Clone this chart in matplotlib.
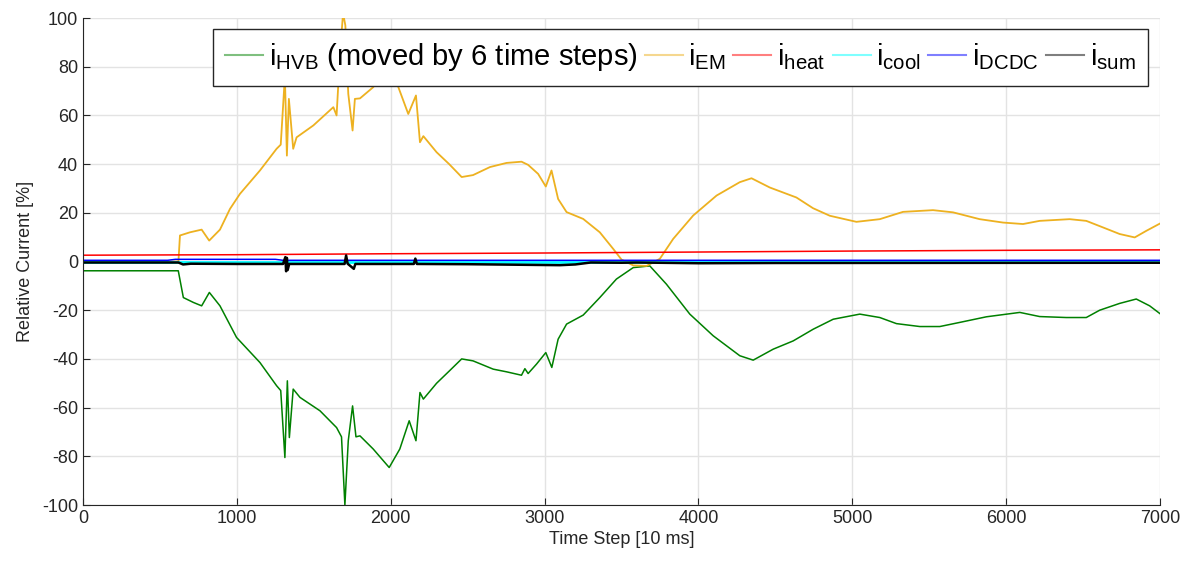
import matplotlib
matplotlib.use("Agg")
from matplotlib import pyplot as plt

plt.rcParams['font.family'] = ['Liberation Sans', 'DejaVu Sans']
plt.rcParams['axes.unicode_minus'] = False

# i_HVB (green), shifted by 6 time steps
t_hvb = [0, 619, 652, 717, 771, 821, 890, 998, 1150, 1258, 1285, 1312, 1328, 1341,
         1366, 1410, 1540, 1648, 1680, 1702, 1724, 1752, 1774, 1800, 1886, 1990,
         2059, 2120, 2164, 2190, 2212, 2298, 2380, 2461, 2535, 2666, 2753, 2850,
         2872, 2893, 2948, 3008, 3047, 3088, 3143, 3251, 3359, 3467, 3576, 3684,
         3792, 3944, 4096, 4269, 4356, 4486, 4616, 4746, 4876, 5049, 5179, 5287,
         5439, 5569, 5699, 5872, 6089, 6218, 6391, 6521, 6608, 6738, 6846, 6933, 7000]
i_hvb = [-3.8, -3.8, -14.8, -16.8, -18.2, -12.7, -18.2, -31.2, -41.5, -51, -53, -80.5, -49, -72.3,
         -52.4, -55.8, -61.3, -68.2, -72, -100, -73.6, -59.3, -72, -71.6, -77, -84.6,
         -77, -65.4, -73.6, -53.8, -56.5, -50, -45, -40, -40.8, -44.2, -45.3, -46.7,
         -44, -46, -42.1, -37.4, -43.5, -31.9, -25.7, -22, -14.8, -7.2, -2.5, -1.8,
         -9.3, -21.6, -30.5, -38.7, -40.5, -36, -32.6, -27.8, -23.7, -21.6, -23, -25.5,
         -26.7, -26.7, -25, -22.7, -20.9, -22.6, -23, -23, -20, -17.2, -15.4, -18.2, -21.4]

# i_EM (yellow)
t_em = [0, 620, 630, 695, 771, 820, 890, 955, 1020, 1150, 1258, 1285, 1312, 1325, 1338,
        1366, 1388, 1497, 1627, 1648, 1670, 1690, 1705, 1724, 1752, 1767, 1800, 1886,
        1990, 2049, 2114, 2164, 2190, 2212, 2298, 2380, 2461, 2535, 2645, 2753, 2850,
        2893, 2958, 3008, 3045, 3088, 3143, 3251, 3359, 3446, 3500, 3576, 3663, 3749,
        3836, 3966, 4118, 4269, 4345, 4464, 4637, 4745, 4854, 5027, 5179, 5330, 5525,
        5655, 5828, 5980, 6110, 6218, 6413, 6521, 6630, 6738, 6836, 6911, 7000]
i_em = [0, 0, 10.7, 12, 13.1, 8.6, 13.1, 21.6, 27.8, 37.4, 46.3, 48, 76, 43.5, 66.8,
        46.3, 51, 55.9, 63.4, 60, 85, 102, 97, 68.9, 53.8, 66.8, 67, 71.6,
        81, 71.7, 60.6, 68.2, 49, 51.5, 44.9, 40, 34.7, 35.5, 38.8, 40.5, 41,
        39.7, 36, 30.8, 37.4, 25.7, 20.3, 17.5, 12, 5.2, 0.8, -1.6, -1.8, 1.1,
        9.3, 18.9, 27.1, 32.6, 34.2, 30.4, 26.3, 21.9, 18.8, 16.3, 17.4, 20.4, 21.1,
        20.2, 17.4, 16.0, 15.4, 16.7, 17.4, 16.7, 14.0, 11.3, 9.9, 12.6, 15.6]

# i_heat (red)
t_heat = [0, 1000, 2000, 3000, 4000, 5000, 6000, 7000]
i_heat = [2.6, 2.8, 3.2, 3.5, 3.9, 4.3, 4.6, 4.8]

# i_cool (cyan)
t_cool = [0, 7000]
i_cool = [0.0, 0.0]

# i_DCDC (blue)
t_dcdc = [0, 550, 600, 1250, 1300, 7000]
i_dcdc = [0.5, 0.5, 0.9, 0.9, 0.5, 0.5]

# i_sum (black)
t_sum = [0, 620, 650, 700, 1000, 1300, 1315, 1320, 1325, 1330, 1340, 1700, 1710, 1720,
         1760, 1770, 2150, 2160, 2170, 2500, 3100, 3200, 3300, 3500, 3600, 4000, 4500, 7000]
i_sum = [-0.4, -0.4, -1.2, -0.9, -1.0, -1.0, 1.8, -4.0, 1.5, -3.5, -1.0, -1.0, 2.5, -0.9,
         -3.0, -1.0, -1.0, 1.2, -1.0, -1.1, -1.5, -1.2, -0.4, -0.5, -0.4, -0.7, -0.6, -0.5]

fig = plt.figure(figsize=(11.88, 5.64), dpi=100)
ax = fig.add_axes([0.0699, 0.1046, 0.9065, 0.8634])

ax.plot(t_hvb, i_hvb, color='#008000', lw=1.1,
        label=r'$\mathregular{i_{HVB}}$ (moved by 6 time steps)')
ax.plot(t_em, i_em, color='#EDB120', lw=1.3, label=r'$\mathregular{i_{EM}}$')
ax.plot(t_heat, i_heat, color='#FF0000', lw=1.1, label=r'$\mathregular{i_{heat}}$')
ax.plot(t_cool, i_cool, color='#00FFFF', lw=2.0, label=r'$\mathregular{i_{cool}}$')
ax.plot(t_dcdc, i_dcdc, color='#0000FF', lw=1.1, label=r'$\mathregular{i_{DCDC}}$')
ax.plot(t_sum, i_sum, color='#000000', lw=1.8, label=r'$\mathregular{i_{sum}}$')

ax.set_xlim(0, 7000)
ax.set_ylim(-100, 100)
ax.set_xticks(range(0, 7001, 1000))
ax.set_yticks(range(-100, 101, 20))
ax.grid(True, color='#e3e3e3', lw=1.0)
ax.set_axisbelow(True)
ax.tick_params(direction='in', length=5, labelsize=13, colors='#262626')
for s in ['top', 'right']:
    ax.spines[s].set_visible(False)
for s in ['left', 'bottom']:
    ax.spines[s].set_color('#262626')

ax.set_xlabel("Time Step [10 ms]", fontsize=13, color='#262626', labelpad=3)
ax.set_ylabel("Relative Current [%]", fontsize=13, color='#262626', labelpad=6)

leg = ax.legend(ncol=6, loc='upper right', bbox_to_anchor=(0.989, 0.977),
                fontsize=21, frameon=True, fancybox=False, framealpha=1,
                edgecolor='#262626', handlelength=1.3, handletextpad=0.2,
                columnspacing=0.25, borderpad=0.42, borderaxespad=0)
leg.get_frame().set_linewidth(1.0)
for h in leg.get_lines():
    h.set_alpha(0.5)
    h.set_linewidth(1.5)

plt.savefig("out.png", dpi=100)
